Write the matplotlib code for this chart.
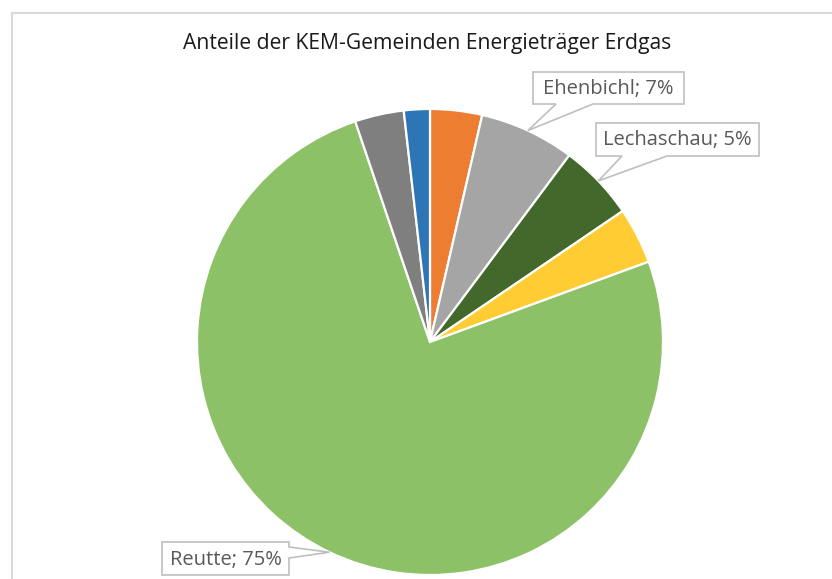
import numpy as np
import matplotlib
matplotlib.use("Agg")
import matplotlib.pyplot as plt
from matplotlib.patches import Polygon, Rectangle

# Shares of natural gas by municipality (percent), clockwise from 12 o'clock
names = ["Gemeinde A", "Ehenbichl", "Lechaschau", "Gemeinde D", "Reutte", "Gemeinde F", "Gemeinde G"]
shares = [3.6, 6.6, 5.3, 3.9, 75.4, 3.4, 1.8]
colors = ["#ED7D31", "#A5A5A5", "#43682B", "#FFCD33", "#8CC168", "#7F7F7F", "#2E75B6"]
labelled = {"Ehenbichl": "Ehenbichl; 7%", "Lechaschau": "Lechaschau; 5%", "Reutte": "Reutte; 75%"}
title = "Anteile der KEM-Gemeinden Energieträger Erdgas"

W, H = 832, 579
fig = plt.figure(figsize=(W / 100, H / 100), dpi=100)
fig.patch.set_facecolor("white")

# chart-area border (partly running off the canvas on the right/bottom)
fig.add_artist(Rectangle((11.5 / W, -0.05), 1.2, 1 - 12.5 / H + 0.05,
                         transform=fig.transFigure, fill=False,
                         edgecolor="#D9D9D9", linewidth=1.5))

cx, cy, r = 430, 342, 233
ax = fig.add_axes([(cx - r) / W, (H - cy - r) / H, 2 * r / W, 2 * r / H])
wedges, _ = ax.pie(shares, colors=colors, startangle=90, counterclock=False,
                   radius=1.0, wedgeprops=dict(edgecolor="white", linewidth=1.6))
ax.set_xlim(-1, 1)
ax.set_ylim(-1, 1)
ax.set_aspect("equal")
ax.axis("off")

fig.text(427 / W, 1 - 43 / H, title, ha="center", va="center",
         fontsize=15.2, family="Open Sans", color="#1A1A1A")

# callout boxes: (box left, top, right, bottom) in pixels, pointer base side and span
callouts = {
    "Ehenbichl": dict(box=(533, 72, 684, 104), side="bottom", base=(556, 593)),
    "Lechaschau": dict(box=(596, 123, 759, 156), side="bottom", base=(622, 667)),
    "Reutte": dict(box=(162, 542, 289, 575), side="right", base=(547, 558)),
}


def px(x, y):
    return (x / W, 1 - y / H)


total = sum(shares)
for i, (name, share) in enumerate(zip(names, shares)):
    if name not in callouts:
        continue
    c = callouts[name]
    # pointer tip sits on the rim at the slice's mid-angle
    mid = (sum(shares[:i]) + share / 2) / total
    ang = np.deg2rad(90 - 360 * mid)
    tx = cx + r * np.cos(ang)
    ty = cy - r * np.sin(ang)
    x0, y0, x1, y1 = c["box"]
    b0, b1 = c["base"]
    if c["side"] == "bottom":
        pts = [(x0, y0), (x1, y0), (x1, y1), (b1, y1), (tx, ty), (b0, y1), (x0, y1)]
    else:
        pts = [(x0, y0), (x1, y0), (x1, b0), (tx, ty), (x1, b1), (x1, y1), (x0, y1)]
    poly = Polygon([px(*p) for p in pts], closed=True, transform=fig.transFigure,
                   facecolor="white", edgecolor="#BFBFBF", linewidth=1.2, zorder=5)
    fig.add_artist(poly)
    fig.text((x0 + x1) / 2 / W, 1 - ((y0 + y1) / 2 + 1) / H, labelled[name],
             ha="center", va="center", fontsize=14.5, family="Open Sans",
             color="#595959", zorder=6)

fig.savefig("out.png", dpi=100, facecolor="white")
